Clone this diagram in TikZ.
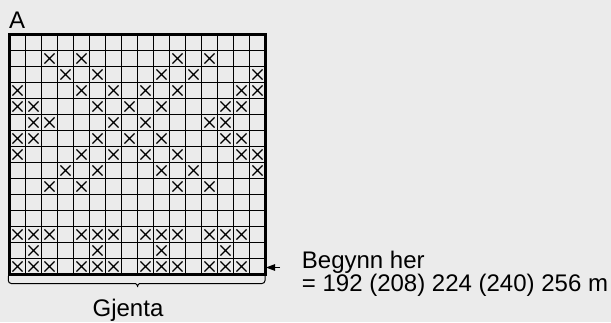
\documentclass[tikz,border=0pt]{standalone}
\usepackage{fontspec}
\setmainfont{Liberation Sans}
\usetikzlibrary{arrows.meta,positioning,shapes.misc}
\definecolor{paperbg}{HTML}{EBEBEB}
\definecolor{inkc}{HTML}{000000}
\tikzset{
  thin grid/.style={line width=0.9pt,inkc},
  outerrim/.style={line width=2.7pt,inkc},
  xmark/.style={cross out,draw=inkc,line width=1.1pt,minimum size=9pt,inner sep=0pt},
  lbl/.style={font=\fontsize{24pt}{28pt}\selectfont,inner sep=0pt,text=inkc},
  pointer/.style={-{Triangle[length=9pt,width=6.5pt]},line width=1pt,inkc},
  bracel/.style={line width=1pt,inkc,rounded corners=3pt}
}

\begin{document}
\begin{tikzpicture}[x=16pt,y=16pt]
\fill[paperbg] (-9.5pt,-47.5pt) rectangle (601.5pt,274.5pt);
\useasboundingbox (-9.5pt,-47.5pt) rectangle (601.5pt,274.5pt);
% chart
\draw[thin grid] (0,0) grid[step=1] (16,15);
\foreach \r/\cols in {2/{3,5,11,13},3/{4,6,10,12,16},4/{1,5,7,9,11,15,16},
  5/{1,2,6,8,10,14,15},6/{2,3,7,9,13,14},7/{1,2,6,8,10,14,15},
  8/{1,5,7,9,11,15,16},9/{4,6,10,12,16},10/{3,5,11,13},
  13/{1,2,3,5,6,7,9,10,11,13,14,15},14/{2,6,10,14},
  15/{1,2,3,5,6,7,9,10,11,13,14,15}}
  \foreach \c in \cols
    \node[xmark] (x-\r-\c) at (\c-0.5,15.5-\r) {};
\draw[outerrim] (0,0) rectangle (16,15);
% labels
\node[lbl,anchor=base west] (tag) at (-0.5pt,246.2pt) {A};
\node[lbl,anchor=base west] (begin) at (292.2pt,6.2pt) {Begynn her};
\node[lbl,anchor=base west] (count) at ([yshift=-23.5pt]begin.base west) {= 192 (208) 224 (240) 256 m};
\node[lbl,anchor=base] (repeat) at (118.5pt,-42.2pt) {Gjenta};
% start arrow
\coordinate (start) at (256.5pt,7pt);
\coordinate (tail) at (270.5pt,7pt);
\draw[pointer] (tail) -- (start);
% repeat brace
\draw[bracel] (-1.2pt,-1.5pt) -- (-1.2pt,-9pt) -- (123pt,-9pt)
  .. controls (126.5pt,-9pt) and (128pt,-11pt) .. (128pt,-14.5pt)
  .. controls (128pt,-11pt) and (129.5pt,-9pt) .. (133pt,-9pt)
  -- (255.5pt,-9pt) -- (255.5pt,-1.5pt);
\end{tikzpicture}
\end{document}
